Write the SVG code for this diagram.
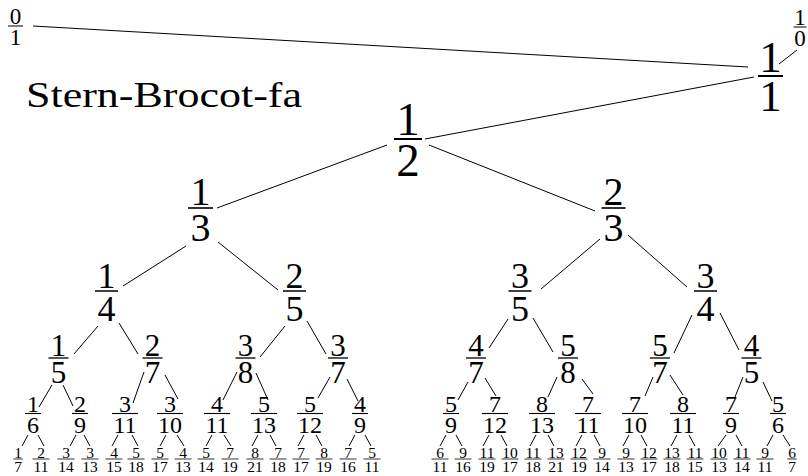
<svg xmlns="http://www.w3.org/2000/svg" width="808" height="476" viewBox="0 0 808 476">
<style>
text{font-family:"Liberation Serif","DejaVu Serif",serif;fill:#000;text-anchor:middle}
.l0{font-size:23px}.l1{font-size:45px}.l2{font-size:47px}.l3{font-size:40px}.l4{font-size:36px}.l5{font-size:31px}.l6{font-size:24px}.l7{font-size:15.5px}
.title{font-size:36px;text-anchor:start}
.n rect{fill:#000}
#edges line{stroke:#000;stroke-width:1;stroke-linecap:butt}
</style>
<rect width="808" height="476" fill="#fff"/>
<text class="title" x="26" y="107" textLength="276" lengthAdjust="spacingAndGlyphs">Stern-Brocot-fa</text>
<g id="edges">
<line x1="33" y1="26" x2="748" y2="67"/>
<line x1="797" y1="50" x2="779" y2="64"/>
<line x1="754" y1="77" x2="425" y2="139"/>
<line x1="387" y1="145" x2="217" y2="208"/>
<line x1="429" y1="145" x2="595" y2="211"/>
<line x1="186" y1="246" x2="123" y2="286"/>
<line x1="218" y1="242" x2="278" y2="290"/>
<line x1="600" y1="239" x2="541" y2="289"/>
<line x1="628" y1="235" x2="687" y2="287"/>
<line x1="98" y1="326" x2="74" y2="354"/>
<line x1="119" y1="323" x2="138" y2="354"/>
<line x1="285" y1="326" x2="260" y2="357"/>
<line x1="307" y1="321" x2="326" y2="354"/>
<line x1="508" y1="319" x2="489" y2="348"/>
<line x1="533" y1="318" x2="553" y2="352"/>
<line x1="692" y1="315" x2="674" y2="353"/>
<line x1="720" y1="313" x2="739" y2="350"/>
<line x1="52" y1="385" x2="39" y2="407"/>
<line x1="63" y1="385" x2="73" y2="406"/>
<line x1="144" y1="372" x2="133" y2="403"/>
<line x1="165" y1="375" x2="178" y2="399"/>
<line x1="237" y1="372" x2="223" y2="400"/>
<line x1="256" y1="373" x2="268" y2="400"/>
<line x1="330" y1="377" x2="318" y2="398"/>
<line x1="347" y1="379" x2="358" y2="401"/>
<line x1="468" y1="382" x2="458" y2="400"/>
<line x1="485" y1="378" x2="496" y2="396"/>
<line x1="557" y1="377" x2="548" y2="397"/>
<line x1="582" y1="379" x2="593" y2="394"/>
<line x1="653" y1="377" x2="645" y2="396"/>
<line x1="670" y1="375" x2="683" y2="395"/>
<line x1="743" y1="377" x2="735" y2="397"/>
<line x1="763" y1="382" x2="772" y2="401"/>
<line x1="28" y1="435" x2="22" y2="446"/>
<line x1="38" y1="435" x2="44" y2="446"/>
<line x1="76" y1="435" x2="70" y2="446"/>
<line x1="84" y1="435" x2="90" y2="446"/>
<line x1="118" y1="435" x2="112" y2="446"/>
<line x1="132" y1="435" x2="138" y2="446"/>
<line x1="166" y1="435" x2="160" y2="446"/>
<line x1="177" y1="435" x2="184" y2="446"/>
<line x1="212" y1="435" x2="206" y2="446"/>
<line x1="224" y1="435" x2="231" y2="446"/>
<line x1="258" y1="435" x2="252" y2="446"/>
<line x1="270" y1="435" x2="276" y2="446"/>
<line x1="304" y1="435" x2="298" y2="446"/>
<line x1="316" y1="435" x2="322" y2="446"/>
<line x1="355" y1="435" x2="349" y2="446"/>
<line x1="365" y1="435" x2="371" y2="446"/>
<line x1="446" y1="435" x2="440" y2="446"/>
<line x1="456" y1="435" x2="462" y2="446"/>
<line x1="489" y1="435" x2="483" y2="446"/>
<line x1="501" y1="435" x2="507" y2="446"/>
<line x1="536" y1="435" x2="530" y2="446"/>
<line x1="548" y1="435" x2="554" y2="446"/>
<line x1="582" y1="435" x2="576" y2="446"/>
<line x1="594" y1="435" x2="600" y2="446"/>
<line x1="629" y1="435" x2="623" y2="446"/>
<line x1="641" y1="435" x2="647" y2="446"/>
<line x1="677" y1="435" x2="671" y2="446"/>
<line x1="689" y1="435" x2="695" y2="446"/>
<line x1="726" y1="435" x2="718" y2="446"/>
<line x1="736" y1="435" x2="742" y2="446"/>
<line x1="773" y1="435" x2="767" y2="446"/>
<line x1="783" y1="435" x2="790" y2="446"/>
</g>
<g class="n" id="n0_1"><rect x="8" y="25.5" width="15" height="1"/><text class="l0" x="15.5" y="24">0</text><text class="l0" x="15.5" y="44.5">1</text></g>
<g class="n" id="n1_0"><rect x="793.5" y="26.5" width="13" height="1"/><text class="l0" x="800" y="25">1</text><text class="l0" x="800" y="45.5">0</text></g>
<g class="n" id="n1_1"><rect x="758" y="75" width="25" height="2"/><text class="l1" x="770.5" y="72">1</text><text class="l1" x="770.5" y="111">1</text></g>
<g class="n" id="n1_2"><rect x="394" y="138" width="28" height="2"/><text class="l2" x="408" y="135">1</text><text class="l2" x="408" y="176">2</text></g>
<g class="n" id="n1_3"><rect x="188" y="207.2" width="25" height="1.6"/><text class="l3" x="200.5" y="204.5">1</text><text class="l3" x="200.5" y="241">3</text></g>
<g class="n" id="n2_3"><rect x="601.5" y="207.2" width="24" height="1.6"/><text class="l3" x="613.5" y="204.5">2</text><text class="l3" x="613.5" y="241">3</text></g>
<g class="n" id="n1_4"><rect x="95" y="290.25" width="23" height="1.5"/><text class="l4" x="106.5" y="288">1</text><text class="l4" x="106.5" y="320.5">4</text></g>
<g class="n" id="n2_5"><rect x="283" y="290.25" width="23" height="1.5"/><text class="l4" x="294.5" y="288">2</text><text class="l4" x="294.5" y="320.5">5</text></g>
<g class="n" id="n3_5"><rect x="508.5" y="290.25" width="23" height="1.5"/><text class="l4" x="520" y="288">3</text><text class="l4" x="520" y="320.5">5</text></g>
<g class="n" id="n3_4"><rect x="694" y="290.25" width="23" height="1.5"/><text class="l4" x="705.5" y="288">3</text><text class="l4" x="705.5" y="320.5">4</text></g>
<g class="n" id="n1_5"><rect x="48.5" y="357.35" width="20" height="1.3"/><text class="l5" x="58.5" y="355.5">1</text><text class="l5" x="58.5" y="383">5</text></g>
<g class="n" id="n2_7"><rect x="142.5" y="357.35" width="20" height="1.3"/><text class="l5" x="152.5" y="355.5">2</text><text class="l5" x="152.5" y="383">7</text></g>
<g class="n" id="n3_8"><rect x="235.5" y="357.35" width="20" height="1.3"/><text class="l5" x="245.5" y="355.5">3</text><text class="l5" x="245.5" y="383">8</text></g>
<g class="n" id="n3_7"><rect x="328" y="357.35" width="20" height="1.3"/><text class="l5" x="338" y="355.5">3</text><text class="l5" x="338" y="383">7</text></g>
<g class="n" id="n4_7"><rect x="466" y="357.35" width="20" height="1.3"/><text class="l5" x="476" y="355.5">4</text><text class="l5" x="476" y="383">7</text></g>
<g class="n" id="n5_8"><rect x="558" y="357.35" width="20" height="1.3"/><text class="l5" x="568" y="355.5">5</text><text class="l5" x="568" y="383">8</text></g>
<g class="n" id="n5_7"><rect x="650" y="357.35" width="20" height="1.3"/><text class="l5" x="660" y="355.5">5</text><text class="l5" x="660" y="383">7</text></g>
<g class="n" id="n4_5"><rect x="741.5" y="357.35" width="20" height="1.3"/><text class="l5" x="751.5" y="355.5">4</text><text class="l5" x="751.5" y="383">5</text></g>
<g class="n" id="n1_6"><rect x="25" y="412.95" width="16" height="1.1"/><text class="l6" x="33" y="411.5">1</text><text class="l6" x="33" y="433">6</text></g>
<g class="n" id="n2_9"><rect x="72" y="412.95" width="16" height="1.1"/><text class="l6" x="80" y="411.5">2</text><text class="l6" x="80" y="433">9</text></g>
<g class="n" id="n3_11"><rect x="112" y="412.95" width="26" height="1.1"/><text class="l6" x="125" y="411.5">3</text><text class="l6" x="125" y="433">11</text></g>
<g class="n" id="n3_10"><rect x="157" y="412.95" width="26" height="1.1"/><text class="l6" x="170" y="411.5">3</text><text class="l6" x="170" y="433">10</text></g>
<g class="n" id="n4_11"><rect x="204" y="412.95" width="26" height="1.1"/><text class="l6" x="217" y="411.5">4</text><text class="l6" x="217" y="433">11</text></g>
<g class="n" id="n5_13"><rect x="251" y="412.95" width="26" height="1.1"/><text class="l6" x="264" y="411.5">5</text><text class="l6" x="264" y="433">13</text></g>
<g class="n" id="n5_12"><rect x="297" y="412.95" width="26" height="1.1"/><text class="l6" x="310" y="411.5">5</text><text class="l6" x="310" y="433">12</text></g>
<g class="n" id="n4_9"><rect x="352" y="412.95" width="16" height="1.1"/><text class="l6" x="360" y="411.5">4</text><text class="l6" x="360" y="433">9</text></g>
<g class="n" id="n5_9"><rect x="443" y="412.95" width="16" height="1.1"/><text class="l6" x="451" y="411.5">5</text><text class="l6" x="451" y="433">9</text></g>
<g class="n" id="n7_12"><rect x="482" y="412.95" width="26" height="1.1"/><text class="l6" x="495" y="411.5">7</text><text class="l6" x="495" y="433">12</text></g>
<g class="n" id="n8_13"><rect x="529" y="412.95" width="26" height="1.1"/><text class="l6" x="542" y="411.5">8</text><text class="l6" x="542" y="433">13</text></g>
<g class="n" id="n7_11"><rect x="575" y="412.95" width="26" height="1.1"/><text class="l6" x="588" y="411.5">7</text><text class="l6" x="588" y="433">11</text></g>
<g class="n" id="n7_10"><rect x="622" y="412.95" width="26" height="1.1"/><text class="l6" x="635" y="411.5">7</text><text class="l6" x="635" y="433">10</text></g>
<g class="n" id="n8_11"><rect x="670" y="412.95" width="26" height="1.1"/><text class="l6" x="683" y="411.5">8</text><text class="l6" x="683" y="433">11</text></g>
<g class="n" id="n7_9"><rect x="723" y="412.95" width="16" height="1.1"/><text class="l6" x="731" y="411.5">7</text><text class="l6" x="731" y="433">9</text></g>
<g class="n" id="n5_6"><rect x="770" y="412.95" width="16" height="1.1"/><text class="l6" x="778" y="411.5">5</text><text class="l6" x="778" y="433">6</text></g>
<g class="n" id="n1_7"><rect x="13.25" y="458.6" width="9.5" height="0.8"/><text class="l7" x="18" y="457.7">1</text><text class="l7" x="18" y="471.5">7</text></g>
<g class="n" id="n2_11"><rect x="32.5" y="458.6" width="17" height="0.8"/><text class="l7" x="41" y="457.7">2</text><text class="l7" x="41" y="471.5">11</text></g>
<g class="n" id="n3_14"><rect x="57.5" y="458.6" width="17" height="0.8"/><text class="l7" x="66" y="457.7">3</text><text class="l7" x="66" y="471.5">14</text></g>
<g class="n" id="n3_13"><rect x="81.5" y="458.6" width="17" height="0.8"/><text class="l7" x="90" y="457.7">3</text><text class="l7" x="90" y="471.5">13</text></g>
<g class="n" id="n4_15"><rect x="105.5" y="458.6" width="17" height="0.8"/><text class="l7" x="114" y="457.7">4</text><text class="l7" x="114" y="471.5">15</text></g>
<g class="n" id="n5_18"><rect x="127.5" y="458.6" width="17" height="0.8"/><text class="l7" x="136" y="457.7">5</text><text class="l7" x="136" y="471.5">18</text></g>
<g class="n" id="n5_17"><rect x="151.5" y="458.6" width="17" height="0.8"/><text class="l7" x="160" y="457.7">5</text><text class="l7" x="160" y="471.5">17</text></g>
<g class="n" id="n4_13"><rect x="174.5" y="458.6" width="17" height="0.8"/><text class="l7" x="183" y="457.7">4</text><text class="l7" x="183" y="471.5">13</text></g>
<g class="n" id="n5_14"><rect x="197.5" y="458.6" width="17" height="0.8"/><text class="l7" x="206" y="457.7">5</text><text class="l7" x="206" y="471.5">14</text></g>
<g class="n" id="n7_19"><rect x="221.5" y="458.6" width="17" height="0.8"/><text class="l7" x="230" y="457.7">7</text><text class="l7" x="230" y="471.5">19</text></g>
<g class="n" id="n8_21"><rect x="246.5" y="458.6" width="17" height="0.8"/><text class="l7" x="255" y="457.7">8</text><text class="l7" x="255" y="471.5">21</text></g>
<g class="n" id="n7_18"><rect x="269.5" y="458.6" width="17" height="0.8"/><text class="l7" x="278" y="457.7">7</text><text class="l7" x="278" y="471.5">18</text></g>
<g class="n" id="n7_17"><rect x="292.5" y="458.6" width="17" height="0.8"/><text class="l7" x="301" y="457.7">7</text><text class="l7" x="301" y="471.5">17</text></g>
<g class="n" id="n8_19"><rect x="315.5" y="458.6" width="17" height="0.8"/><text class="l7" x="324" y="457.7">8</text><text class="l7" x="324" y="471.5">19</text></g>
<g class="n" id="n7_16"><rect x="339.5" y="458.6" width="17" height="0.8"/><text class="l7" x="348" y="457.7">7</text><text class="l7" x="348" y="471.5">16</text></g>
<g class="n" id="n5_11"><rect x="363.5" y="458.6" width="17" height="0.8"/><text class="l7" x="372" y="457.7">5</text><text class="l7" x="372" y="471.5">11</text></g>
<g class="n" id="n6_11"><rect x="431.5" y="458.6" width="17" height="0.8"/><text class="l7" x="440" y="457.7">6</text><text class="l7" x="440" y="471.5">11</text></g>
<g class="n" id="n9_16"><rect x="454.5" y="458.6" width="17" height="0.8"/><text class="l7" x="463" y="457.7">9</text><text class="l7" x="463" y="471.5">16</text></g>
<g class="n" id="n11_19"><rect x="478.5" y="458.6" width="17" height="0.8"/><text class="l7" x="487" y="457.7">11</text><text class="l7" x="487" y="471.5">19</text></g>
<g class="n" id="n10_17"><rect x="501.5" y="458.6" width="17" height="0.8"/><text class="l7" x="510" y="457.7">10</text><text class="l7" x="510" y="471.5">17</text></g>
<g class="n" id="n11_18"><rect x="524.5" y="458.6" width="17" height="0.8"/><text class="l7" x="533" y="457.7">11</text><text class="l7" x="533" y="471.5">18</text></g>
<g class="n" id="n13_21"><rect x="547.5" y="458.6" width="17" height="0.8"/><text class="l7" x="556" y="457.7">13</text><text class="l7" x="556" y="471.5">21</text></g>
<g class="n" id="n12_19"><rect x="570.5" y="458.6" width="17" height="0.8"/><text class="l7" x="579" y="457.7">12</text><text class="l7" x="579" y="471.5">19</text></g>
<g class="n" id="n9_14"><rect x="593.5" y="458.6" width="17" height="0.8"/><text class="l7" x="602" y="457.7">9</text><text class="l7" x="602" y="471.5">14</text></g>
<g class="n" id="n9_13"><rect x="617.5" y="458.6" width="17" height="0.8"/><text class="l7" x="626" y="457.7">9</text><text class="l7" x="626" y="471.5">13</text></g>
<g class="n" id="n12_17"><rect x="640.5" y="458.6" width="17" height="0.8"/><text class="l7" x="649" y="457.7">12</text><text class="l7" x="649" y="471.5">17</text></g>
<g class="n" id="n13_18"><rect x="663.5" y="458.6" width="17" height="0.8"/><text class="l7" x="672" y="457.7">13</text><text class="l7" x="672" y="471.5">18</text></g>
<g class="n" id="n11_15"><rect x="686.5" y="458.6" width="17" height="0.8"/><text class="l7" x="695" y="457.7">11</text><text class="l7" x="695" y="471.5">15</text></g>
<g class="n" id="n10_13"><rect x="710.5" y="458.6" width="17" height="0.8"/><text class="l7" x="719" y="457.7">10</text><text class="l7" x="719" y="471.5">13</text></g>
<g class="n" id="n11_14"><rect x="733.5" y="458.6" width="17" height="0.8"/><text class="l7" x="742" y="457.7">11</text><text class="l7" x="742" y="471.5">14</text></g>
<g class="n" id="n9_11"><rect x="756.5" y="458.6" width="17" height="0.8"/><text class="l7" x="765" y="457.7">9</text><text class="l7" x="765" y="471.5">11</text></g>
<g class="n" id="n6_7"><rect x="787.25" y="458.6" width="9.5" height="0.8"/><text class="l7" x="792" y="457.7">6</text><text class="l7" x="792" y="471.5">7</text></g>
</svg>
